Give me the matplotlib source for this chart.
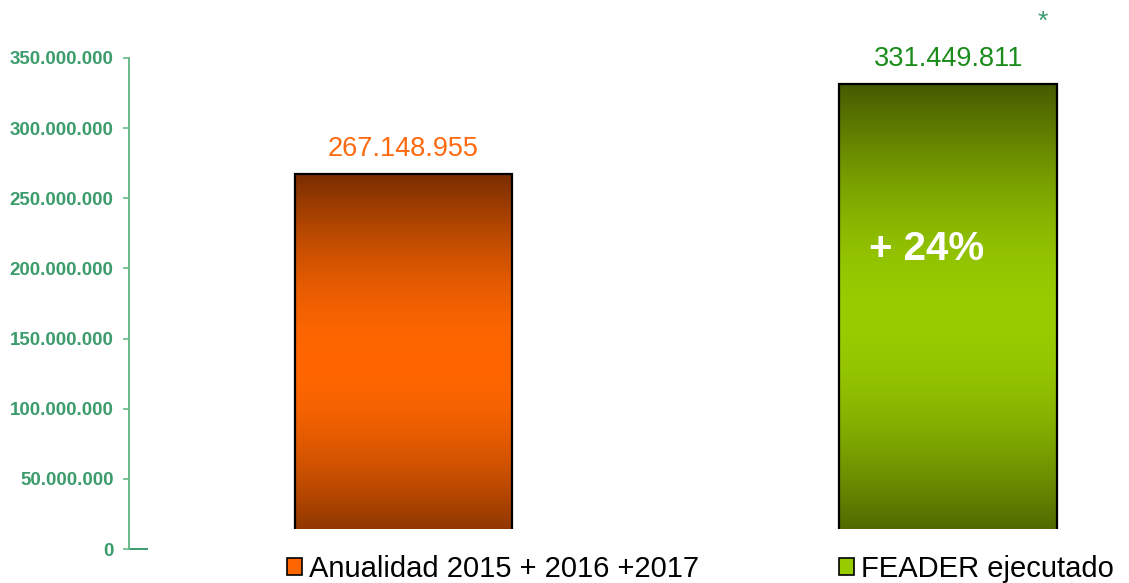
import numpy as np
import matplotlib.pyplot as plt
from matplotlib.colors import ListedColormap, to_rgb
from matplotlib.patches import Patch, Rectangle

plt.rcParams['font.family'] = ['Liberation Sans', 'DejaVu Sans']

categories = ['Anualidad 2015 + 2016 +2017', 'FEADER ejecutado']
values = [267148955, 331449811]
y_ticks = [0, 50e6, 100e6, 150e6, 200e6, 250e6, 300e6, 350e6]

dark = ['#7a2e00', '#465a00']
bright = ['#ff6600', '#99cc00']
label_colors = ['#ff6a10', '#1a8c1a']
axis_green = '#3c9c6c'


def fmt(v):
    return '{:,.0f}'.format(v).replace(',', '.')


def shade(d, b, n=256):
    # smooth dark - bright - dark blend along the bar
    t = np.linspace(0, 1, n)
    w = np.sin(np.pi * t)
    d, b = np.array(to_rgb(d)), np.array(to_rgb(b))
    return ListedColormap(d + (b - d) * w[:, None])


fig = plt.figure(figsize=(11.29, 5.83), dpi=100)
ax = fig.add_axes([129 / 1129, 34 / 583, 1000 / 1129, 491 / 583])

x = np.arange(len(values))
bars = ax.bar(x, values, width=0.4, facecolor='none', edgecolor='black',
              linewidth=1.6, zorder=3)

grad = np.linspace(0, 1, 256).reshape(-1, 1)
for bar, d, b in zip(bars, dark, bright):
    x0, w, h = bar.get_x(), bar.get_width(), bar.get_height()
    im = ax.imshow(grad, cmap=shade(d, b), aspect='auto', origin='lower',
                   extent=(x0, x0 + w, 0, h), zorder=2)
    im.set_clip_path(bar)

for bar, v, c in zip(bars, values, label_colors):
    ax.annotate(fmt(v), (bar.get_x() + bar.get_width() / 2, v),
                xytext=(0, 9), textcoords='offset points',
                ha='center', va='bottom', fontsize=19.5, color=c)

pct = (values[1] / values[0] - 1) * 100
ax.text(x[1] - 0.04, 214e6, '+ {:.0f}%'.format(pct), ha='center', va='center',
        fontsize=29, fontweight='bold', color='white', zorder=4)

ax.set_xlim(-0.504, 1.332)
ax.set_ylim(0, 350e6)
ax.set_yticks(y_ticks)
ax.set_yticklabels([fmt(t) for t in y_ticks], fontsize=13.5,
                   fontweight='bold', color=axis_green)
ax.tick_params(axis='y', colors='#66bb8a', labelcolor=axis_green,
               length=4, width=1.2, pad=7)
ax.set_xticks([])
for s in ['top', 'right', 'bottom']:
    ax.spines[s].set_visible(False)
ax.spines['left'].set_color('#66bb8a')
ax.spines['left'].set_linewidth(1.4)
ax.axhline(0, xmin=0, xmax=0.018, color='#3c9c6c', lw=1.4, clip_on=False)

# legend band covers the lower end of the bars
fig.patches.append(Rectangle((200 / 1129, 0), 1, 54 / 583,
                             transform=fig.transFigure, facecolor='white',
                             edgecolor='none', zorder=5))

for cat, b, xpos in zip(categories, bright, [287, 839]):
    leg = fig.legend(handles=[Patch(facecolor=b, edgecolor='black', lw=1.2)],
                     labels=[cat], loc='center left',
                     bbox_to_anchor=(xpos / 1129, 14 / 583),
                     frameon=False, borderpad=0, borderaxespad=0,
                     handlelength=0.5, handleheight=0.5, handletextpad=0.25,
                     fontsize=21)
    leg.set_zorder(6)

fig.text(1043 / 1129, 1 - 22 / 583, '*', ha='center', va='center',
         fontsize=19, color=axis_green)

plt.savefig('out.png', dpi=100)
